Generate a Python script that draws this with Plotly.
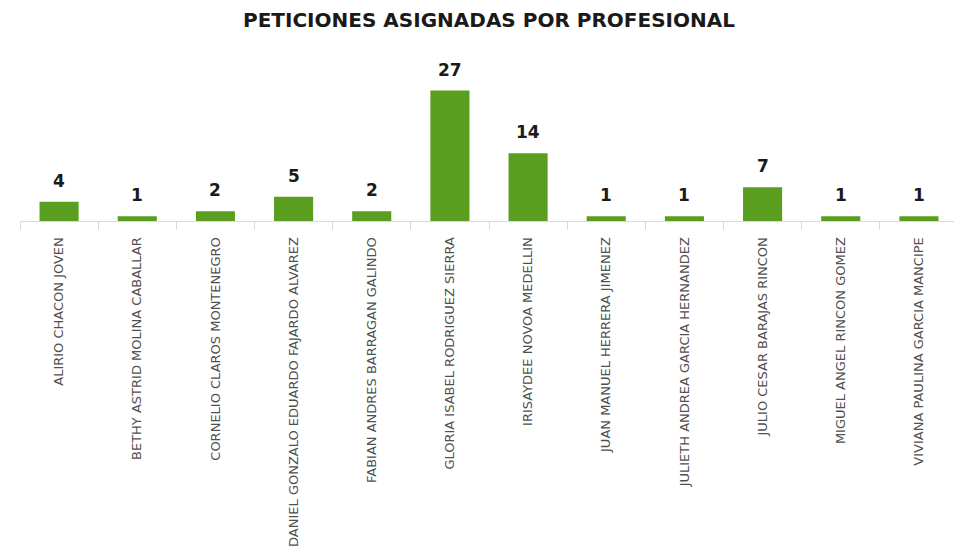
import plotly.graph_objects as go

profesionales = [
    "ALIRIO CHACON JOVEN",
    "BETHY ASTRID MOLINA CABALLAR",
    "CORNELIO CLAROS MONTENEGRO",
    "DANIEL GONZALO EDUARDO FAJARDO ALVAREZ",
    "FABIAN ANDRES BARRAGAN GALINDO",
    "GLORIA ISABEL RODRIGUEZ SIERRA",
    "IRISAYDEE NOVOA MEDELLIN",
    "JUAN MANUEL HERRERA JIMENEZ",
    "JULIETH ANDREA GARCIA HERNANDEZ",
    "JULIO CESAR BARAJAS RINCON",
    "MIGUEL ANGEL RINCON GOMEZ",
    "VIVIANA PAULINA GARCIA MANCIPE",
]
peticiones = [4, 1, 2, 5, 2, 27, 14, 1, 1, 7, 1, 1]

fig = go.Figure(
    go.Bar(
        x=profesionales,
        y=peticiones,
        marker=dict(color="#5a9e1f", line=dict(width=0)),
        width=0.5,
        cliponaxis=False,
    )
)

for name, val in zip(profesionales, peticiones):
    fig.add_annotation(
        x=name,
        y=val,
        xref="x",
        yref="y",
        text=f"<b>{val}</b>",
        showarrow=False,
        yanchor="bottom",
        yshift=9,
        font=dict(family="DejaVu Sans", size=17, color="#1a1a1a"),
    )

fig.update_layout(
    width=962,
    height=551,
    margin=dict(l=12, r=12, t=68, b=338),
    paper_bgcolor="white",
    plot_bgcolor="white",
    showlegend=False,
    title=dict(
        text="<b>PETICIONES ASIGNADAS POR PROFESIONAL</b>",
        x=0.5,
        xanchor="center",
        y=0.978,
        yanchor="middle",
        font=dict(family="DejaVu Sans", size=20, color="#1a1a1a"),
    ),
    bargap=0.5,
)

fig.update_xaxes(
    tickangle=-90,
    tickfont=dict(family="DejaVu Sans", size=13, color="#505050"),
    showline=True,
    linecolor="#d9d9d9",
    linewidth=1,
    ticks="outside",
    tickson="boundaries",
    ticklen=8,
    tickcolor="#d9d9d9",
    ticklabelstandoff=10,
    automargin=False,
    showgrid=False,
)
fig.update_yaxes(
    range=[0, 30],
    visible=False,
    showgrid=False,
    zeroline=False,
    automargin=False,
)

fig.write_html("out.html")
